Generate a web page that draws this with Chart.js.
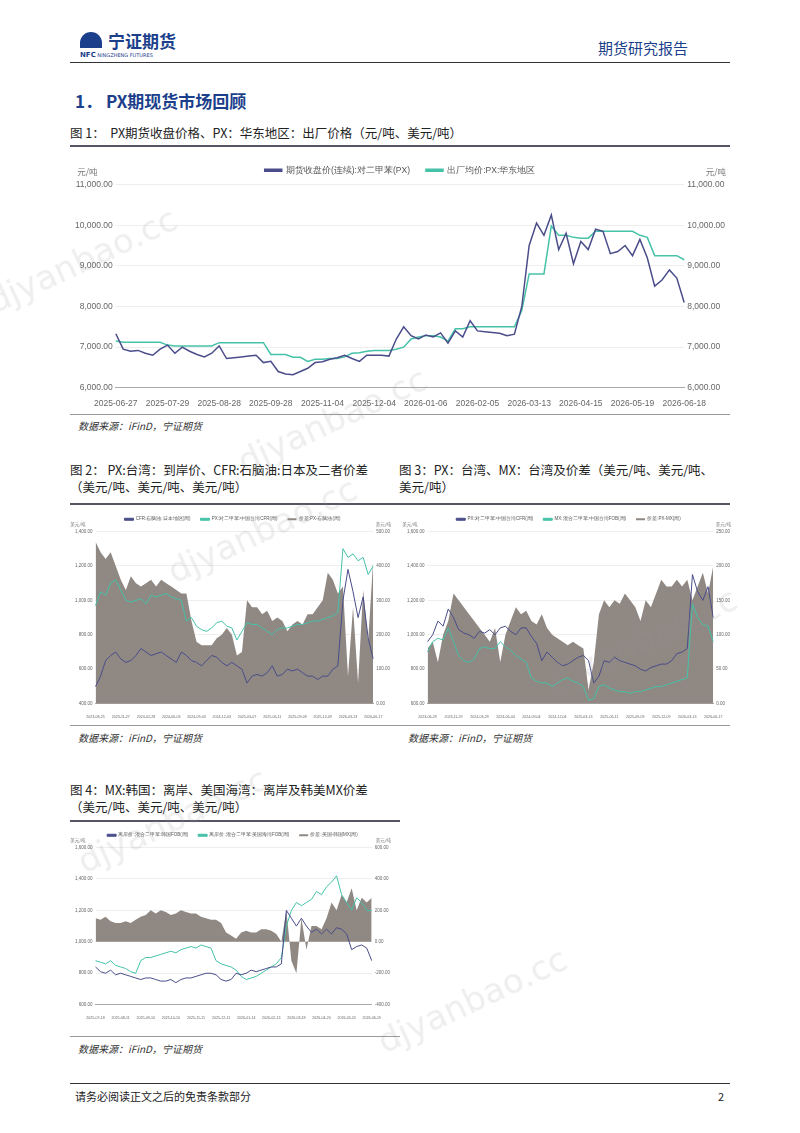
<!DOCTYPE html>
<html><head><meta charset="utf-8">
<script src="https://cdn.jsdelivr.net/npm/chart.js@4"></script>
<style>
body{margin:0;width:800px;height:1133px;position:relative;background:#fff;font-family:"Noto Sans CJK SC","Noto Sans",sans-serif;color:#222;overflow:hidden}
.a{position:absolute}
.cap{font-size:12.5px;line-height:17px}
.src{font-size:10px;font-style:italic;color:#333}
.hr{position:absolute;height:0;border-top:1px solid #333}
.wm{position:absolute;color:rgba(150,150,150,0.16);font-family:"DejaVu Sans";font-size:34px;transform:rotate(-25deg)}
</style></head><body>
<div class="a" style="left:80px;top:32px;width:22px;height:16px;background:#1c3f8c;border-radius:11px 11px 0 0"></div>
<div class="a" style="left:108px;top:28px;font-size:17px;color:#1c3f8c;font-weight:bold">宁证期货</div>
<div class="a" style="left:80px;top:51px;font-size:5px;color:#1c3f8c;font-family:'DejaVu Sans'"><b style="font-size:7px">NFC</b> NINGZHENG FUTURES</div>
<div class="a" style="left:598px;top:37px;font-size:15px;color:#1c3f8c">期货研究报告</div>
<div class="hr" style="left:70px;top:62px;width:660px;border-top:1.5px solid #333"></div>
<div class="a" style="left:75px;top:88px;font-size:17px;font-weight:bold;color:#1c3f8c">1． PX期现货市场回顾</div>
<div class="a cap" style="left:70px;top:124px">图 1：&nbsp; PX期货收盘价格、PX：华东地区：出厂价格（元/吨、美元/吨）</div>
<div class="hr" style="left:70px;top:145px;width:660px;border-top:2px solid #556"></div>
<div class="a" style="left:70px;top:150px;width:660px;height:262px"><canvas id="c1"></canvas></div>
<div class="hr" style="left:70px;top:414px;width:660px;border-top:1px solid #999"></div>
<div class="a src" style="left:78px;top:418px">数据来源：iFinD，宁证期货</div>

<div class="a cap" style="left:70px;top:461px;width:335px">图 2： PX:台湾：到岸价、CFR:石脑油:日本及二者价差<br>（美元/吨、美元/吨、美元/吨）</div>
<div class="a cap" style="left:399px;top:461px;width:340px">图 3：PX：台湾、MX：台湾及价差（美元/吨、美元/吨、<br>美元/吨）</div>
<div class="hr" style="left:70px;top:503px;width:660px;border-top:2px solid #556"></div>
<div class="a" style="left:70px;top:507px;width:325px;height:215px"><canvas id="c2"></canvas></div>
<div class="a" style="left:402px;top:507px;width:333px;height:215px"><canvas id="c3"></canvas></div>
<div class="hr" style="left:70px;top:725px;width:660px;border-top:1px solid #999"></div>
<div class="a src" style="left:78px;top:730px">数据来源：iFinD，宁证期货</div>
<div class="a src" style="left:408px;top:730px">数据来源：iFinD，宁证期货</div>

<div class="a cap" style="left:70px;top:781px;width:335px">图 4：MX:韩国：离岸、美国海湾：离岸及韩美MX价差<br>（美元/吨、美元/吨、美元/吨）</div>
<div class="hr" style="left:70px;top:820px;width:330px;border-top:2px solid #556"></div>
<div class="a" style="left:70px;top:823px;width:325px;height:200px"><canvas id="c4"></canvas></div>
<div class="hr" style="left:70px;top:1036px;width:330px;border-top:1px solid #999"></div>
<div class="a src" style="left:78px;top:1041px">数据来源：iFinD，宁证期货</div>

<div class="hr" style="left:70px;top:1083px;width:660px;border-top:1px solid #333"></div>
<div class="a" style="left:75px;top:1088px;font-size:11px">请务必阅读正文之后的免责条款部分</div>
<div class="a" style="left:718px;top:1088px;font-size:11px">2</div>

<div class="wm" style="left:-20px;top:240px">djyanbao.cc</div>
<div class="wm" style="left:230px;top:400px">djyanbao.cc</div>
<div class="wm" style="left:160px;top:510px">djyanbao.cc</div>
<div class="wm" style="left:70px;top:800px">djyanbao.cc</div>
<div class="wm" style="left:370px;top:980px">djyanbao.cc</div>
<div class="wm" style="left:540px;top:620px">djyanbao.cc</div>

<script>
const NAVY = '#4a4d8a', TEAL = '#45c2a8', GREY = '#8f8883';

// 图1
const ticks1 = ['2025-06-27','2025-07-29','2025-08-28','2025-09-28','2025-11-04','2025-12-04','2026-01-06','2026-02-05','2026-03-13','2026-04-15','2026-05-19','2026-06-18'];
const futures1 = [7330,6950,6900,6920,6850,6800,6950,7050, 6850,7000,6900,6820,6760,6850,7030, 6720,6740,6760,6780,6800,6620,6650,
  6400,6340,6320,6400,6480,6620,6640, 6700,6740,6800,6720,6650,6800,6800, 6800,6780,7200,7500,7280,7200,7300,
  7250,7350,7100,7400,7250,7650,7400, 7380,7360,7340,7280,7320,8000,9500, 10050,9750,10250,9400,9800,9050,9600,
  9400,9900,9850,9300,9350,9500,9250, 9650,9200,8500,8650,8900,8700,8100];
const spot1 = [7150,7120,7120,7120,7120,7120,7120,7050, 7030,7030,7030,7030,7030,7030,7110, 7110,7110,7110,7110,7110,7110,6820,
  6820,6820,6750,6750,6650,6700,6700, 6720,6720,6760,6850,6860,6900,6920, 6920,6920,6950,7000,7200,7250,7280,
  7280,7250,7150,7450,7450,7500,7500, 7500,7500,7500,7500,7500,7900,8800, 8800,8800,9980,9750,9750,9700,9680,
  9680,9850,9850,9850,9850,9850,9850, 9750,9700,9250,9250,9250,9250,9150];
const names1 = ['期货收盘价(连续):对二甲苯(PX)','出厂均价:PX:华东地区'];

// 图2
const ticks2 = ['2023-08-25','2023-11-27','2024-02-28','2024-06-03','2024-09-03','2024-12-03','2025-03-07','2025-06-11','2025-09-09','2025-12-09','2026-03-13','2026-06-17'];
const navy2 = [500,560,650,680,700,660,640,650,680,720, 700,680,690,700,680,660,640,700,680,650, 640,620,650,680,670,640,620,640,620,600,
  520,560,570,560,580,620,560,570,600,590, 600,580,560,560,540,560,560,600,620,1000, 1180,1050,900,1020,780,660];
const teal2 = [970,1050,1030,1100,1120,1060,1000,990,1000,1010, 980,1030,1020,1030,1040,1020,1010,1000,880,900, 850,830,820,840,870,880,850,840,770,820,
  870,860,860,840,820,800,830,840,840,850, 860,860,870,880,880,890,900,910,930,1300, 1250,1270,1230,1250,1150,1200];
const grey2 = [470,440,420,440,400,360,330,370,350,340, 350,360,340,360,350,340,330,320,320,240, 180,170,170,170,190,200,220,200,140,150,
  300,280,280,260,270,240,250,240,210,230, 240,230,260,260,280,300,380,360,320,340, 80,280,60,330,180,420];
const names2 = ['CFR:石脑油:日本地区(周)','PX:对二甲苯:中国台湾CFR(周)','价差:PX-石脑油(周)'];

// 图3
const ticks3 = ['2023-06-29','2023-11-29','2024-03-29','2024-06-04','2024-09-04','2024-12-04','2025-03-13','2025-06-11','2025-09-09','2025-12-09','2026-03-13','2026-06-17'];
const navy3 = [960,1000,1080,1050,1150,1100,1030,1010,1000,980, 1020,1010,1030,1000,1040,1050,1020,1000,1040,1040, 990,950,850,900,870,840,820,830,850,870,
  880,850,720,760,850,840,870,850,840,830, 820,800,790,810,820,830,830,850,890,900, 920,1350,1250,1200,1280,1100];
const teal3 = [900,960,980,970,1040,960,880,850,840,860, 920,930,920,920,960,930,910,880,860,840, 750,730,720,720,700,720,740,750,730,720,
  700,620,630,700,710,690,680,670,670,660, 670,670,680,690,700,700,710,720,730,740, 750,1180,1100,1060,1050,960];
const grey3 = [80,90,60,100,120,160,150,140,130,120, 110,100,90,110,60,100,120,140,130,135, 120,115,130,110,100,95,90,85,90,85,
  80,20,60,130,150,140,150,145,160,150, 140,120,150,140,160,180,170,170,180,170, 180,150,170,190,160,200];
const names3 = ['PX:对二甲苯:中国台湾CFR(周)','MX:混合二甲苯:中国台湾FOB(周)','价差:PX-MX(周)'];

// 图4
const ticks4 = ['2025-07-18','2025-08-11','2025-09-10','2025-10-10','2025-11-11','2025-12-11','2026-01-14','2026-02-13','2026-03-18','2026-04-20','2026-05-20','2026-06-19'];
const navy4 = [840,810,800,820,790,800,790,780,770,760, 770,770,760,750,750,760,740,760,770,770, 780,790,800,800,790,760,750,760,800,790,
  800,820,810,820,830,840,840,860,1200,1150, 1100,1150,1100,1060,1080,1050,1080,1050,1090,1080, 1050,950,970,980,960,880];
const teal4 = [880,870,860,880,850,840,830,810,800,880, 900,900,910,920,930,940,930,950,960,970, 960,980,970,960,880,860,850,840,820,780,
  760,770,780,800,820,840,860,900,1100,1200, 1250,1230,1250,1270,1320,1300,1350,1380,1420,1300, 1250,1200,1280,1250,1200,1200];
const grey4 = [150,140,160,130,120,120,130,120,140,160, 170,200,180,200,190,170,180,200,190,180, 180,160,150,140,140,120,60,40,20,60,
  70,60,60,80,80,70,50,0,200,-120, -200,150,-50,100,100,80,150,250,200,300, 250,340,200,280,250,280];
const names4 = ['离岸价:混合二甲苯:韩国FOB(周)','离岸价:混合二甲苯:美国海湾FOB(周)','价差:美国-韩国MX(周)'];

function fmt(v){ return v.toLocaleString('en-US',{minimumFractionDigits:2,maximumFractionDigits:2}); }

// unit text above both y axes
const unitPlugin = {
  id: 'unit',
  afterDraw(chart, args, opts) {
    const c = chart.ctx, a = chart.chartArea;
    c.save();
    c.fillStyle = '#777';
    c.font = opts.size + 'px "Noto Sans CJK SC"';
    c.textBaseline = 'bottom';
    c.textAlign = 'right';
    c.fillText(opts.text, chart.scales.y.left + opts.size * 3, a.top - opts.gap);
    c.textAlign = 'right';
    c.fillText(opts.text, chart.scales.y1.right - 2, a.top - opts.gap);
    c.restore();
  }
};

function build(id, n, ticks, step, sets, left, right, fs, unit, gap){
  const labels = Array.from({length:n}, (_, i) => i % step === 0 ? ticks[i / step] : '');
  const axisY = (pos, mm, grid) => ({
    position: pos, min: mm[0], max: mm[1],
    ticks: { stepSize: mm[2], color: '#666', font: { size: fs }, callback: v => fmt(v) },
    grid: { display: grid, color: '#eee', drawTicks: false },
    border: { display: false }
  });
  new Chart(document.getElementById(id), {
    type: 'line',
    data: { labels: labels, datasets: sets },
    plugins: [unitPlugin],
    options: {
      responsive: true, maintainAspectRatio: false, animation: false,
      layout: { padding: { left: 2, right: 2 } },
      plugins: {
        legend: { position: 'top', labels: { boxWidth: fs * 2, boxHeight: 2, color: '#555', font: { size: fs }, padding: gap * 2 } },
        tooltip: { enabled: false },
        unit: { text: unit, size: fs, gap: gap }
      },
      elements: { point: { radius: 0 }, line: { tension: 0, borderWidth: id === 'c1' ? 1.5 : 1 } },
      scales: {
        x: {
          ticks: { autoSkip: false, maxRotation: 0, color: '#666', font: { size: id === 'c1' ? fs : 3.6 }, callback: function(v){ return labels[v]; } },
          grid: { display: false }, border: { color: '#aaa' }
        },
        y: axisY('left', left, true),
        y1: axisY('right', right, false)
      }
    }
  });
}

const sp = (arr, name, col, ax) => ({ label: name, data: arr, borderColor: col, backgroundColor: col, yAxisID: ax, order: 1 });
const area = (arr, name) => ({ label: name, data: arr, borderColor: GREY, backgroundColor: GREY, borderWidth: 0, fill: 'origin', yAxisID: 'y1', order: 2 });

build('c1', futures1.length, ticks1, 7,
  [sp(futures1, names1[0], NAVY, 'y'), sp(spot1, names1[1], TEAL, 'y')],
  [6000, 11000, 1000], [6000, 11000, 1000], 8.5, '元/吨', 8);
build('c2', navy2.length, ticks2, 5,
  [sp(navy2, names2[0], NAVY, 'y'), sp(teal2, names2[1], TEAL, 'y'), area(grey2, names2[2])],
  [400, 1400, 200], [0, 500, 100], 4.5, '美元/吨', 5);
build('c3', navy3.length, ticks3, 5,
  [sp(navy3, names3[0], NAVY, 'y'), sp(teal3, names3[1], TEAL, 'y'), area(grey3, names3[2])],
  [600, 1600, 200], [0, 250, 50], 4.5, '美元/吨', 5);
build('c4', navy4.length, ticks4, 5,
  [sp(navy4, names4[0], NAVY, 'y'), sp(teal4, names4[1], TEAL, 'y'), area(grey4, names4[2])],
  [600, 1600, 200], [-400, 600, 200], 4.5, '美元/吨', 5);
</script>
</body></html>
